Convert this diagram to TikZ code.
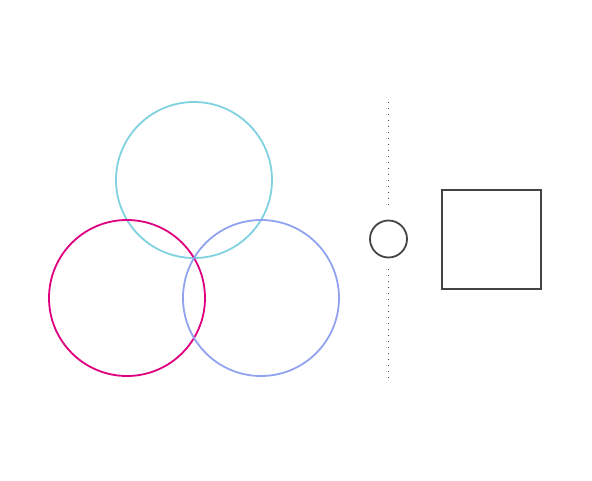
\documentclass[tikz,border=0pt]{standalone}
\usepackage{tikz}
\usetikzlibrary{positioning}
\definecolor{setcyan}{RGB}{128,210,224}
\definecolor{setmagenta}{RGB}{222,0,128}
\definecolor{setblue}{RGB}{145,163,240}
\definecolor{darkline}{RGB}{68,68,68}

\begin{document}
\begin{tikzpicture}[
        x=1pt, y=-1pt,
        node distance=35pt,
        setcircle/.style={circle, minimum size=156pt, inner sep=0pt, line width=1.8pt},
        sepline/.style={darkline, line width=1.4pt, dash pattern=on 1.2pt off 4.8pt}
    ]
        \useasboundingbox (0,0) rectangle (592,480);
        \node[setcircle, draw=setcyan] (setA) at (194,180) {};
        \node[setcircle, draw=setmagenta] (setB) at (127,298) {};
        \node[setcircle, draw=setblue] (setC) at (261,298) {};

        \node[draw=darkline, circle, minimum size=37pt, inner sep=0pt, line width=1.8pt] (sep) at (388.5,239) {};
        \node[draw=darkline, rectangle, minimum size=99pt, inner sep=0pt, line width=2pt, right=33pt of sep] (box) {};

        \coordinate (top) at (388.5,102);
        \coordinate (bottom) at (388.5,378);
        \draw[sepline, shorten >=10pt] (top) -- (sep);
        \draw[sepline, shorten >=10pt] (bottom) -- (sep);
    \end{tikzpicture}
\end{document}
